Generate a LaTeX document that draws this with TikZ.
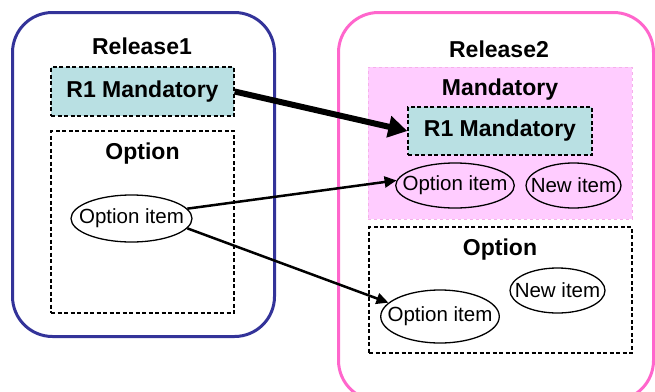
\documentclass[tikz,border=0pt]{standalone}
\usepackage{fontspec}
\setmainfont{Liberation Sans}
\usetikzlibrary{shapes.geometric,arrows.meta}
\definecolor{relblue}{HTML}{333399}
\definecolor{relpink}{HTML}{FF66CC}
\definecolor{mandfill}{HTML}{FFCCFF}
\definecolor{mandline}{HTML}{F5B0EA}
\definecolor{r1fill}{HTML}{B9E0E3}
\tikzset{
  release/.style={draw, line width=3pt, rounded corners=40pt, inner sep=0pt},
  dashbox/.style={draw, dash pattern=on 4pt off 2.5pt, line width=1.3pt, inner sep=0pt},
  title/.style={font=\fontsize{23}{27}\selectfont\bfseries, anchor=base},
  item/.style={draw, ellipse, line width=1.3pt, inner xsep=-10.5pt, inner ysep=0pt, font=\fontsize{20.5}{24}\selectfont},
  link/.style={line width=2.5pt, -{Triangle[length=12pt,width=11pt]}},
}
\begin{document}
\begin{tikzpicture}[x=1pt,y=-1pt]
    \clip (0,0) rectangle (655,391);

    \node[release, draw=relblue, minimum width=262pt, minimum height=324pt] (rel1) at (143.5,174.5) {};
    \node[release, draw=relpink, minimum width=315pt, minimum height=388pt] (rel2) at (496,206.5) {};

    \node[title] (t1) at (142,54) {Release1};
    \node[dashbox, fill=r1fill, minimum width=183pt, minimum height=49pt, font=\fontsize{23}{27}\selectfont\bfseries] (r1man) at (142.5,91.5) {R1 Mandatory};
    \node[dashbox, minimum width=183pt, minimum height=182pt] (opt1) at (142.5,222) {};
    \node[title] (o1) at (142.5,159) {Option};
    \node[item, minimum width=121pt, minimum height=47pt] (optitem1) at (131.5,218.5) {Option item};

    \node[title] (t2) at (499,57) {Release2};
    \node[draw=mandline, fill=mandfill, dashed, line width=0.8pt, minimum width=264pt, minimum height=152pt] (mand) at (500,143) {};
    \node[title] (m2) at (500,95) {Mandatory};
    \node[dashbox, fill=r1fill, minimum width=184pt, minimum height=48pt, font=\fontsize{23}{27}\selectfont\bfseries] (r2man) at (500,131) {R1 Mandatory};
    \node[item, minimum width=116pt, minimum height=45pt] (mopt) at (455,185.5) {Option item};
    \node[item, minimum width=95pt, minimum height=45pt] (mnew) at (573.5,185.5) {New item};
    \node[dashbox, minimum width=263pt, minimum height=126pt] (opt2) at (500.5,290) {};
    \node[title] (o2) at (500,255) {Option};
    \node[item, minimum width=95pt, minimum height=45pt] (onew) at (557.5,290.5) {New item};
    \node[item, minimum width=116pt, minimum height=53pt] (oopt) at (440,316.5) {Option item};

    \draw[line width=6pt, -{Triangle[length=19pt,width=21pt]}] (r1man.east) -- (r2man.west);
    \draw[link] (optitem1.10) -- (mopt.175);
    \draw[link] (optitem1.-10) -- (oopt.165);
  \end{tikzpicture}
\end{document}
